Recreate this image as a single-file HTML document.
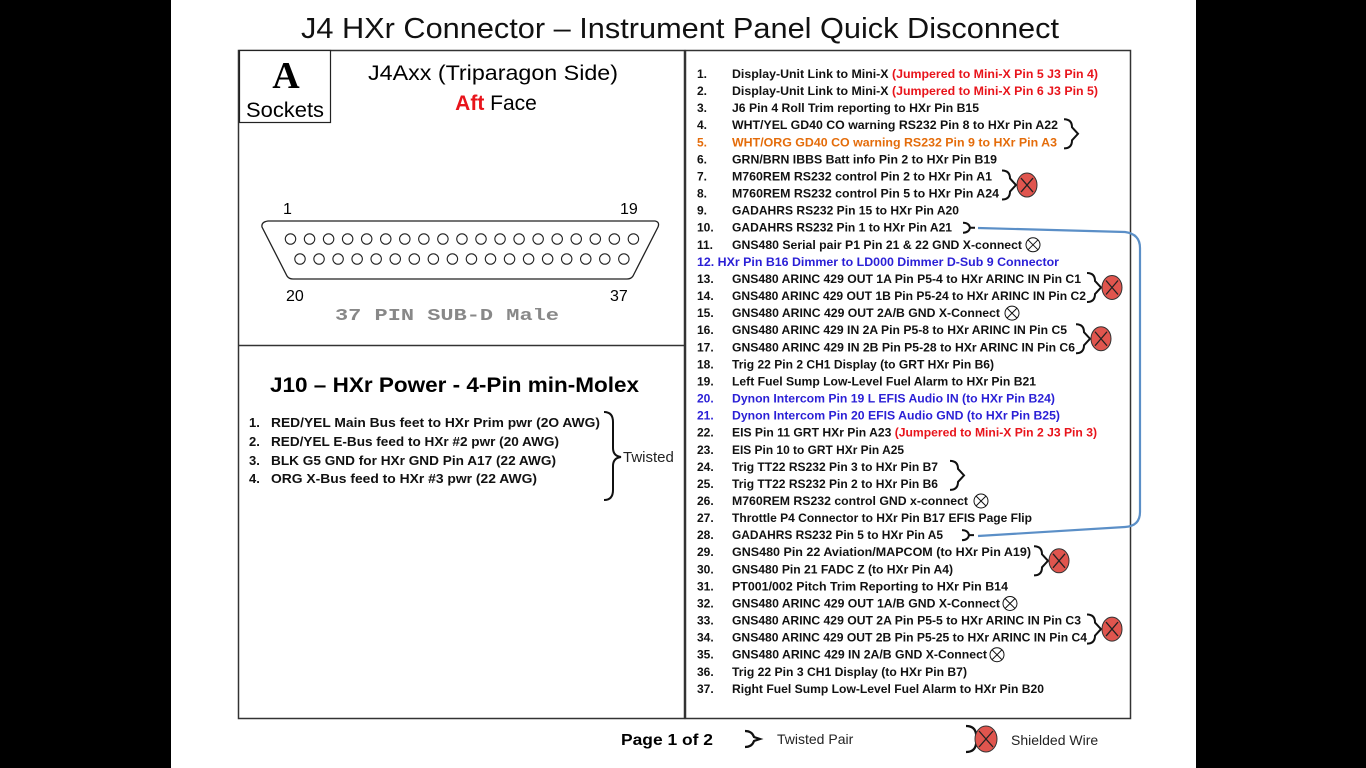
<!DOCTYPE html>
<html><head><meta charset="utf-8"><style>
html,body{margin:0;padding:0;background:#000;width:1366px;height:768px;overflow:hidden}
svg{display:block}
text{font-family:"Liberation Sans",sans-serif}
.r{font-weight:bold;font-size:12px;fill:#111}
</style></head><body>
<svg width="1366" height="768" viewBox="0 0 1366 768" xmlns="http://www.w3.org/2000/svg">
<rect x="0" y="0" width="1366" height="768" fill="#000"/>
<rect x="171" y="0" width="1025" height="768" fill="#fff"/>
<text x="680" y="38" font-size="29" text-anchor="middle" textLength="758" lengthAdjust="spacingAndGlyphs" fill="#111">J4 HXr Connector – Instrument Panel Quick Disconnect</text>
<rect x="238.5" y="50.5" width="446" height="668" fill="none" stroke="#333" stroke-width="1.5"/>
<line x1="238" y1="345.5" x2="685" y2="345.5" stroke="#333" stroke-width="1.5"/>
<rect x="685.5" y="50.5" width="445" height="668" fill="none" stroke="#333" stroke-width="1.5"/>
<rect x="239.5" y="50.5" width="91" height="72" fill="#fff" stroke="#222" stroke-width="1.2"/>
<text x="286" y="88" font-weight="bold" font-size="38" text-anchor="middle" style="font-family:'Liberation Serif',serif">A</text>
<text x="285" y="117" font-size="21" text-anchor="middle" textLength="78" lengthAdjust="spacingAndGlyphs">Sockets</text>
<text x="493" y="80" font-size="21" text-anchor="middle" textLength="250" lengthAdjust="spacingAndGlyphs">J4Axx  (Triparagon Side)</text>
<text x="496" y="110" font-size="21" text-anchor="middle"><tspan fill="#e8141b" font-weight="bold">Aft</tspan> Face</text>
<text x="283" y="214" font-size="16">1</text>
<text x="620" y="214" font-size="16">19</text>
<text x="286" y="301" font-size="16">20</text>
<text x="610" y="301" font-size="16">37</text>
<path d="M268,221 L655,221 Q660,222 658,227 L633,276 Q631,279 627,279 L293,279 Q289,279 287,276 L262,227 Q261,222 268,221 Z" fill="none" stroke="#222" stroke-width="1.3"/>
<g fill="none" stroke="#222" stroke-width="1.1" id="pins"></g>
<text x="335" y="320" font-size="17" font-weight="bold" fill="#888" style="font-family:'Liberation Mono',monospace" textLength="224" lengthAdjust="spacingAndGlyphs">37 PIN SUB-D Male</text>
<text x="270" y="392" font-size="21" font-weight="bold" textLength="369" lengthAdjust="spacingAndGlyphs">J10 – HXr Power - 4-Pin min-Molex</text>
<g font-size="13" font-weight="bold" fill="#111">
<text x="249" y="427">1.</text><text x="271" y="427" textLength="329" lengthAdjust="spacingAndGlyphs">RED/YEL Main Bus feet to HXr Prim pwr  (2O AWG)</text>
<text x="249" y="446">2.</text><text x="271" y="446" textLength="288" lengthAdjust="spacingAndGlyphs">RED/YEL E-Bus feed to HXr #2 pwr (20 AWG)</text>
<text x="249" y="465">3.</text><text x="271" y="465" textLength="285" lengthAdjust="spacingAndGlyphs">BLK  G5 GND for HXr GND Pin A17 (22 AWG)</text>
<text x="249" y="483">4.</text><text x="271" y="483" textLength="266" lengthAdjust="spacingAndGlyphs">ORG  X-Bus feed to HXr #3 pwr (22 AWG)</text>
</g>
<path d="M604,412 Q613,412 613,422 L613,448 Q613,456 621,457 Q613,458 613,466 L613,490 Q613,500 604,500" fill="none" stroke="#111" stroke-width="2"/>
<text x="623" y="462" font-size="15" fill="#222">Twisted</text>
<g class="r" id="list"></g>
<path d="M978,228 L1125,232 Q1140,234 1140,248 L1140,512 Q1140,526 1125,527 L978,536" fill="none" stroke="#5b8fc7" stroke-width="2.2"/>
<g id="icons" fill="none" stroke="#111" stroke-width="2"></g>
<text x="621" y="745" font-size="16" font-weight="bold" textLength="92" lengthAdjust="spacingAndGlyphs">Page 1 of 2</text>
<path d="M745,731 Q752,731 754,737 L760,739 L754,741 Q752,747 745,747" fill="none" stroke="#111" stroke-width="2.2"/>
<text x="777" y="744" font-size="14" fill="#222">Twisted Pair</text>
<path d="M966,726 Q975,726 976,734 L980,739 L976,744 Q975,752 966,752" fill="none" stroke="#111" stroke-width="2.2"/>
<ellipse cx="986" cy="739" rx="11" ry="13" fill="#e0554e" stroke="#333"/>
<path d="M979,731 L993,747 M993,731 L979,747" stroke="#222" stroke-width="1.3"/>
<text x="1011" y="745" font-size="14" fill="#222">Shielded Wire</text>
</svg>
<script>
const NS="http://www.w3.org/2000/svg";
function el(p,t,a,txt){const e=document.createElementNS(NS,t);for(const k in a)e.setAttribute(k,a[k]);if(txt!=null)e.textContent=txt;p.appendChild(e);return e;}
const pins=document.getElementById('pins');
for(let i=0;i<19;i++)el(pins,'circle',{cx:290.5+i*19.05,cy:239,r:5.2});
for(let i=0;i<18;i++)el(pins,'circle',{cx:300+i*19.05,cy:259,r:5.2});
const R='#e8141b',O='#e46c0a',B='#2a1fd6';
const rows=[
[["Display-Unit Link to Mini-X "],["(Jumpered to Mini-X Pin 5 J3 Pin 4)",R],1098],
[["Display-Unit Link to Mini-X "],["(Jumpered to Mini-X Pin 6 J3 Pin 5)",R],1098],
[["J6 Pin 4 Roll Trim reporting to HXr Pin B15"],979],
[["WHT/YEL  GD40 CO warning RS232 Pin 8 to HXr Pin A22"],1058],
[["WHT/ORG  GD40 CO warning RS232 Pin 9 to HXr Pin A3",O],1057,O],
[["GRN/BRN  IBBS Batt info Pin 2 to HXr Pin B19"],997],
[["M760REM RS232 control Pin 2 to HXr Pin A1"],992],
[["M760REM RS232 control Pin 5 to HXr Pin A24"],999],
[["GADAHRS RS232 Pin 15 to HXr Pin A20"],959],
[["GADAHRS RS232 Pin 1 to HXr Pin A21"],952],
[["GNS480 Serial pair P1 Pin 21 & 22 GND X-connect"],1022],
[["HXr Pin B16 Dimmer to LD000 Dimmer D-Sub 9 Connector",B],1059,B,true],
[["GNS480 ARINC 429 OUT 1A Pin P5-4 to HXr ARINC IN Pin C1"],1081],
[["GNS480 ARINC 429 OUT 1B Pin P5-24 to HXr ARINC IN Pin C2"],1086],
[["GNS480 ARINC 429 OUT 2A/B GND X-Connect"],1000],
[["GNS480 ARINC 429 IN 2A Pin P5-8 to HXr ARINC IN Pin C5"],1067],
[["GNS480 ARINC 429 IN 2B Pin P5-28 to HXr ARINC IN Pin C6"],1075],
[["Trig 22 Pin 2 CH1 Display (to GRT HXr Pin B6)"],994],
[["Left Fuel Sump Low-Level Fuel Alarm to HXr Pin B21"],1036],
[["Dynon Intercom Pin 19 L EFIS Audio IN (to HXr Pin B24)",B],1055,B],
[["Dynon Intercom Pin 20 EFIS Audio GND (to HXr Pin B25)",B],1060,B],
[["EIS Pin 11 GRT HXr Pin A23 "],["(Jumpered to Mini-X Pin 2 J3 Pin 3)",R],1097],
[["EIS Pin 10 to GRT HXr Pin A25"],904],
[["Trig TT22 RS232 Pin 3 to HXr Pin B7"],938],
[["Trig TT22 RS232 Pin 2 to HXr Pin B6"],938],
[["M760REM RS232 control GND x-connect"],968],
[["Throttle P4 Connector to HXr Pin B17 EFIS Page Flip"],1032],
[["GADAHRS RS232 Pin 5 to HXr Pin A5"],943],
[["GNS480 Pin 22 Aviation/MAPCOM (to HXr Pin A19)"],1031],
[["GNS480 Pin 21 FADC Z (to HXr Pin A4)"],953],
[["PT001/002 Pitch Trim Reporting to HXr Pin B14"],1008],
[["GNS480 ARINC 429 OUT 1A/B GND X-Connect"],1000],
[["GNS480 ARINC 429 OUT 2A Pin P5-5 to HXr ARINC IN Pin C3"],1081],
[["GNS480 ARINC 429 OUT 2B Pin P5-25 to HXr ARINC IN Pin C4"],1087],
[["GNS480 ARINC 429 IN 2A/B GND X-Connect"],987],
[["Trig 22 Pin 3 CH1 Display (to HXr Pin B7)"],967],
[["Right Fuel Sump Low-Level Fuel Alarm to HXr Pin B20"],1044]];
const list=document.getElementById('list');
rows.forEach((r,i)=>{
 const y=78+i*17.08;
 const segs=r.filter(s=>Array.isArray(s));
 const end=r.find(s=>typeof s==='number');
 const nc=r[segs.length+1]; const special=r[segs.length+2]===true;
 if(special){
  const t=el(list,'text',{x:697,y:y,fill:B,textLength:end-697,lengthAdjust:'spacingAndGlyphs'});
  el(t,'tspan',{},(i+1)+".  "+segs[0][0]);return;
 }
 el(list,'text',{x:697,y:y,fill:nc||'#111'},(i+1)+".");
 const t=el(list,'text',{x:732,y:y,textLength:end-732,lengthAdjust:'spacingAndGlyphs'});
 segs.forEach(s=>el(t,'tspan',{fill:s[1]||'#111'},s[0]));
});
const ic=document.getElementById('icons');
function ry(n){return 74+(n-1)*17.08;}
function brace(x,y1,y2){const m=(y1+y2)/2;el(ic,'path',{d:`M${x},${y1-6} Q${x+8},${y1-6} ${x+8},${y1+2} L${x+14},${m} L${x+8},${y2-2} Q${x+8},${y2+6} ${x},${y2+6}`});}
function shield(x,y1,y2){brace(x,y1,y2);const m=(y1+y2)/2;el(ic,'ellipse',{cx:x+25,cy:m,rx:10,ry:12,fill:'#e0554e',stroke:'#333','stroke-width':1});el(ic,'path',{d:`M${x+19},${m-7} L${x+31},${m+7} M${x+31},${m-7} L${x+19},${m+7}`,stroke:'#222','stroke-width':1.3});}
function xc(x,n){const y=ry(n);el(ic,'circle',{cx:x,cy:y,r:7,'stroke-width':1});el(ic,'path',{d:`M${x-5},${y-5} L${x+5},${y+5} M${x+5},${y-5} L${x-5},${y+5}`,'stroke-width':1});}
brace(1064,ry(4),ry(5));brace(950,ry(24),ry(25));
shield(1002,ry(7),ry(8));shield(1087,ry(13),ry(14));shield(1076,ry(16),ry(17));shield(1034,ry(29),ry(30));shield(1087,ry(33),ry(34));
function small(x,n){const y=ry(n);el(ic,'path',{d:`M${x},${y-5} Q${x+6},${y-5} ${x+7},${y} L${x+12},${y} M${x+7},${y} Q${x+6},${y+5} ${x},${y+5}`});}
small(963,10);small(962,28);
xc(1033,11);xc(1012,15);xc(981,26);xc(1010,32);xc(997,35);
</script>
</body></html>
